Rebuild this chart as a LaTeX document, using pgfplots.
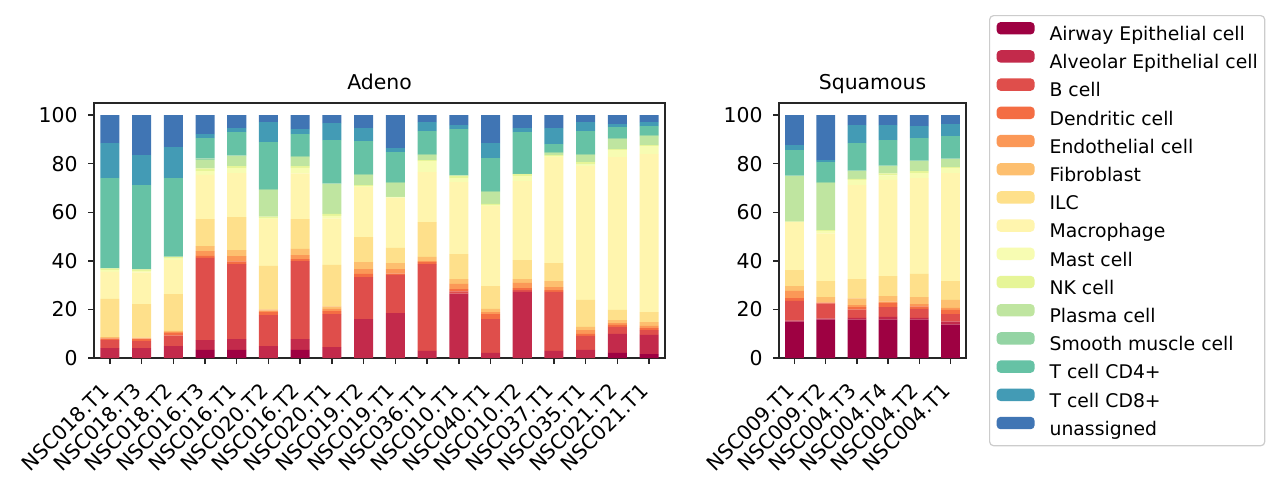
\documentclass[border=0pt]{standalone}
\usepackage{pgfplots}
\pgfplotsset{compat=1.18}
\usepackage{pgfplotstable}
\usepackage{fontspec}
\setmainfont{DejaVu Sans}

\definecolor{cAw}{HTML}{9E0142}
\definecolor{cAl}{HTML}{C32A4B}
\definecolor{cB}{HTML}{DF4E4B}
\definecolor{cDc}{HTML}{F46D43}
\definecolor{cEn}{HTML}{FB9857}
\definecolor{cFb}{HTML}{FDBF6F}
\definecolor{cILC}{HTML}{FEE08B}
\definecolor{cMac}{HTML}{FFF5AE}
\definecolor{cMast}{HTML}{F7FCB2}
\definecolor{cNK}{HTML}{E6F598}
\definecolor{cPl}{HTML}{BFE5A0}
\definecolor{cSM}{HTML}{94D4A4}
\definecolor{cCDf}{HTML}{66C2A5}
\definecolor{cCDe}{HTML}{439BB5}
\definecolor{cUn}{HTML}{4075B4}
\definecolor{spine}{HTML}{262626}

\pgfplotstableread{
x Aw Al B Dc En Fb ILC Mac Mast NK Pl SM CDf CDe Un
0 0 4.1 3.3 0.6 0.3 0.3 15.7 11.2 0.7 0.7 0 0.1 37.1 14.4 11.5
1 0 4.1 2.9 0.8 0.3 0.3 13.8 13.1 0.6 0.6 0 0.1 34.6 12.3 16.5
2 0 4.9 4.3 1.1 0.5 0.4 15.1 14.0 0.6 0.7 0 0.1 32.4 12.7 13.2
3 3.3 4.1 33.8 0.9 1.9 2.1 11.1 18.2 1.6 1.1 3.5 0.6 8.3 1.7 7.8
4 3.3 4.5 30.9 1.1 2.2 2.4 13.6 18.1 2.1 0.8 4.1 0.3 9.6 1.7 5.3
5 0 4.9 12.8 1.2 0.6 0.5 17.9 19.3 0.5 0.5 10.9 0.4 19.4 8.2 2.9
6 3.3 4.5 32.1 0.8 1.7 2.5 12.3 18.8 2.3 0.7 3.7 0.4 9.1 2.0 5.8
7 0 4.5 13.6 1.2 0.9 1.1 17.0 19.2 1.0 0.8 12.3 0.3 17.8 7.0 3.3
8 0 16.0 17.3 1.3 2.0 2.9 10.3 20.6 0.4 0.4 4.1 0.4 13.6 5.4 5.3
9 0 18.5 15.7 0.5 1.9 2.5 6.2 20.5 0.3 0.2 5.7 0.4 12.4 1.6 13.6
10 0 2.9 35.8 0.8 0.4 1.7 14.4 20.5 4.6 0.4 2.0 0.4 9.5 3.7 2.9
11 0 26.5 0.9 1.0 2.1 2.0 10.3 29.6 1.7 0.8 0.3 0.1 18.9 1.7 4.1
12 0 2.1 13.9 2.1 0.8 1.3 9.4 33.0 0.4 0.5 4.8 0.4 13.6 6.2 11.5
13 0 27.2 0.8 0.8 2.1 1.6 7.8 32.5 2.1 0.8 0 0.1 17.2 1.7 5.3
14 0 2.9 24.3 0.8 1.2 2.5 7.4 43.6 0.4 0.4 0.9 0.4 3.3 6.6 5.3
15 0 3.3 5.8 0.8 1.6 1.3 11.1 55.1 0.6 1.1 2.8 0.4 9.5 3.7 2.9
16 2.1 7.8 2.9 0.8 0.8 1.2 4.2 62.9 2.9 0.4 4.1 0.4 4.6 1.2 3.7
17 1.6 7.9 2.0 0.8 0.9 1.6 4.1 65.1 3.2 0.5 3.7 0.4 3.7 1.6 2.9
}\adeno

\pgfplotstableread{
x Aw Al B Dc En Fb ILC Mac Mast NK Pl SM CDf CDe Un
0 15.0 0.4 8.1 1.2 2.9 2.0 6.6 19.8 0.1 0.1 18.7 0.2 10.5 2.1 12.3
1 15.8 0.4 6.2 0.2 0.3 2.2 6.6 19.6 1.1 0.3 19.3 0.4 8.3 0.8 18.5
2 15.8 0.7 3.4 1.1 0.8 2.8 7.9 38.7 2.1 0.5 3.2 0.2 11.3 7.4 4.1
3 15.8 1.1 4.1 1.6 0.6 2.3 8.2 39.6 1.9 0.8 3.0 0.2 10.5 6.2 4.1
4 15.8 0.7 3.7 1.1 0.9 2.9 9.5 39.5 2.0 0.9 4.1 0.2 9.2 5.0 4.5
5 13.7 1.3 3.1 1.7 0.8 3.3 7.8 44.4 2.1 0.4 3.3 0.2 9.3 4.9 3.7
}\squam

\pgfplotsset{
  panel/.style={
    scale only axis, height=127.5pt,
    anchor=south west,
    ymin=0, ymax=105, ytick={0,20,40,60,80,100},
    ybar stacked, bar width=0.6,
    axis line style={line width=0.7pt, draw=spine},
    every tick/.style={line width=0.7pt, draw=spine},
    tick align=outside, major tick length=3pt, tick pos=left,
    font=\fontsize{10.2}{12}\selectfont,
    /pgf/number format/assume math mode=true,
    yticklabel style={anchor=east, inner sep=0pt, xshift=-5pt},
    xticklabel style={rotate=45, anchor=north east, inner sep=0pt, xshift=-9.5pt, yshift=-2.5pt},
    title style={at={(0.5,1)}, anchor=base, inner sep=0pt, yshift=1pt, font=\fontsize{10.2}{12}\selectfont},
    every axis plot post/.append style={legend image code/.code={\fill[##1] (0pt,0.3pt) rectangle (19pt,6.5pt); \path (26.5pt,0pt);}},
  }
}

\begin{document}
\begin{tikzpicture}
\begin{axis}[panel, at={(47pt,63pt)}, width=285.5pt,
  xmin=-0.5, xmax=17.5, xtick={0,...,17},
  xticklabels={NSC018.T1,NSC018.T3,NSC018.T2,NSC016.T3,NSC016.T1,NSC020.T2,NSC016.T2,NSC020.T1,NSC019.T2,NSC019.T1,NSC036.T1,NSC010.T1,NSC040.T1,NSC010.T2,NSC037.T1,NSC035.T1,NSC021.T2,NSC021.T1},
  title={Adeno}]
\addplot[fill=cAw, draw=none] table[x=x,y=Aw]{\adeno};
\addplot[fill=cAl, draw=none] table[x=x,y=Al]{\adeno};
\addplot[fill=cB, draw=none] table[x=x,y=B]{\adeno};
\addplot[fill=cDc, draw=none] table[x=x,y=Dc]{\adeno};
\addplot[fill=cEn, draw=none] table[x=x,y=En]{\adeno};
\addplot[fill=cFb, draw=none] table[x=x,y=Fb]{\adeno};
\addplot[fill=cILC, draw=none] table[x=x,y=ILC]{\adeno};
\addplot[fill=cMac, draw=none] table[x=x,y=Mac]{\adeno};
\addplot[fill=cMast, draw=none] table[x=x,y=Mast]{\adeno};
\addplot[fill=cNK, draw=none] table[x=x,y=NK]{\adeno};
\addplot[fill=cPl, draw=none] table[x=x,y=Pl]{\adeno};
\addplot[fill=cSM, draw=none] table[x=x,y=SM]{\adeno};
\addplot[fill=cCDf, draw=none] table[x=x,y=CDf]{\adeno};
\addplot[fill=cCDe, draw=none] table[x=x,y=CDe]{\adeno};
\addplot[fill=cUn, draw=none] table[x=x,y=Un]{\adeno};
\end{axis}

\begin{axis}[panel, at={(389.5pt,63pt)}, width=93.5pt,
  xmin=-0.5, xmax=5.5, xtick={0,...,5},
  xticklabels={NSC009.T1,NSC009.T2,NSC004.T3,NSC004.T4,NSC004.T2,NSC004.T1},
  title={Squamous},
  legend cell align=left,
  legend style={at={(1.123,1.345)}, anchor=north west, draw=black!20, line width=0.6pt,
    rounded corners=2pt, fill=white, inner xsep=3.5pt, inner ysep=3.2pt, row sep=2.85pt,
    font=\fontsize{9.4}{11}\selectfont,
    nodes={inner sep=0pt, text height=7.5pt, text depth=2pt}}]
\addplot[fill=cAw, draw=none] table[x=x,y=Aw]{\squam};
\addlegendentry{Airway Epithelial cell}
\addplot[fill=cAl, draw=none] table[x=x,y=Al]{\squam};
\addlegendentry{Alveolar Epithelial cell}
\addplot[fill=cB, draw=none] table[x=x,y=B]{\squam};
\addlegendentry{B cell}
\addplot[fill=cDc, draw=none] table[x=x,y=Dc]{\squam};
\addlegendentry{Dendritic cell}
\addplot[fill=cEn, draw=none] table[x=x,y=En]{\squam};
\addlegendentry{Endothelial cell}
\addplot[fill=cFb, draw=none] table[x=x,y=Fb]{\squam};
\addlegendentry{Fibroblast}
\addplot[fill=cILC, draw=none] table[x=x,y=ILC]{\squam};
\addlegendentry{ILC}
\addplot[fill=cMac, draw=none] table[x=x,y=Mac]{\squam};
\addlegendentry{Macrophage}
\addplot[fill=cMast, draw=none] table[x=x,y=Mast]{\squam};
\addlegendentry{Mast cell}
\addplot[fill=cNK, draw=none] table[x=x,y=NK]{\squam};
\addlegendentry{NK cell}
\addplot[fill=cPl, draw=none] table[x=x,y=Pl]{\squam};
\addlegendentry{Plasma cell}
\addplot[fill=cSM, draw=none] table[x=x,y=SM]{\squam};
\addlegendentry{Smooth muscle cell}
\addplot[fill=cCDf, draw=none] table[x=x,y=CDf]{\squam};
\addlegendentry{T cell CD4+}
\addplot[fill=cCDe, draw=none] table[x=x,y=CDe]{\squam};
\addlegendentry{T cell CD8+}
\addplot[fill=cUn, draw=none] table[x=x,y=Un]{\squam};
\addlegendentry{unassigned}
\end{axis}
\pgfresetboundingbox
\path (0pt,0pt) rectangle (639pt,242pt);
\end{tikzpicture}
\end{document}
